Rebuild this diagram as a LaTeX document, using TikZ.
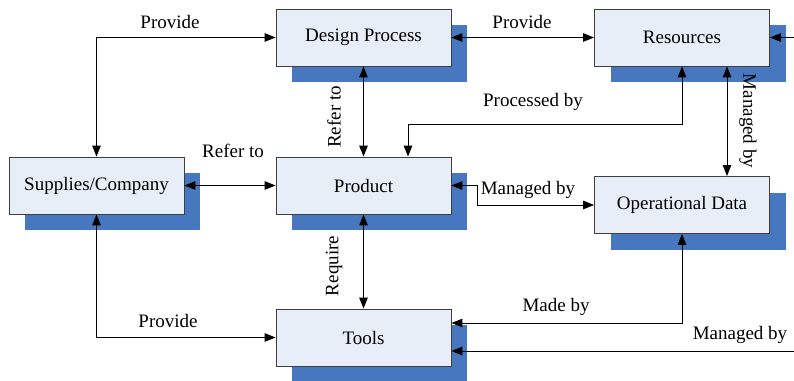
\documentclass[tikz,border=0pt]{standalone}
\usepackage{fontspec}
\setmainfont{Liberation Serif}
\usepackage{xcolor}
\definecolor{ShadowBlue}{HTML}{4677BF}
\definecolor{PaleBlue}{HTML}{E8EEF8}
\definecolor{EdgeGray}{HTML}{3F3F3F}
\usepackage{tikz}
\usetikzlibrary{arrows.meta,positioning,shadows}

\begin{document}
\begin{tikzpicture}[x=1pt,y=-1pt,>={Triangle[length=11pt,width=8.5pt]},font=\fontsize{19}{22}\selectfont,box/.style={draw=EdgeGray,line width=0.9pt,fill=PaleBlue,minimum width=175pt,minimum height=57pt,align=center,general shadow={fill=ShadowBlue,shadow xshift=16pt,shadow yshift=-16pt}},link/.style={line width=1pt},lbl/.style={inner sep=1pt}]
\useasboundingbox (0,0) rectangle (794,380);
\node[box] (des) at (363.5,37.5) {Design Process};
\node[box] (res) at (682,37.5) {Resources};
\node[box] (sup) at (96.5,185.5) {Supplies/Company};
\node[box] (prod) at (363.5,185.5) {Product};
\node[box] (od) at (682,205) {Operational Data};
\node[box] (tools) at (363.5,337.5) {Tools};
\coordinate (resin) at (794,37.5);
\coordinate (mgin) at (794,351);
\coordinate (pbend) at (408,124);
% connectors
\draw[<->,link](sup.north)|-(des.west);\draw[<->,link](des.east)--(res.west);\draw[->,link](resin)--(res.east);
\draw[<->,link](des.south)--(prod.north);\draw[<->,link](res.south)|-(pbend)--(pbend|-prod.north);
\draw[<->,link]([xshift=45pt]res.south)--([xshift=45pt]od.north);
\draw[<->,link](sup.east)--(prod.west);\draw[<->,link](prod.east)--++(26,0)|-(od.west);
\draw[<->,link](prod.south)--(tools.north);\draw[<->,link](sup.south)|-(tools.west);
\draw[<->,link](od.south)|-([yshift=14.5pt]tools.east);\draw[->,link](mgin)--([yshift=-13.5pt]tools.east);
% labels
\node[lbl] (l1) at (170,22) {Provide};
\node[lbl] (l2) at (522,22) {Provide};
\node[lbl,rotate=90] (l3) at (334,117) {Refer to};
\node[lbl] (l4) at (533,102) {Processed by};
\node[lbl,rotate=-90] (l5) at (748,121) {Managed by};
\node[lbl] (l6) at (233,151) {Refer to};
\node[lbl] (l7) at (528,190) {Managed by};
\node[lbl,rotate=90] (l8) at (334,266) {Require};
\node[lbl] (l9) at (168,321) {Provide};
\node[lbl] (l10) at (556,307) {Made by};
\node[lbl] (l11) at (740,335) {Managed by};
\end{tikzpicture}
\end{document}
